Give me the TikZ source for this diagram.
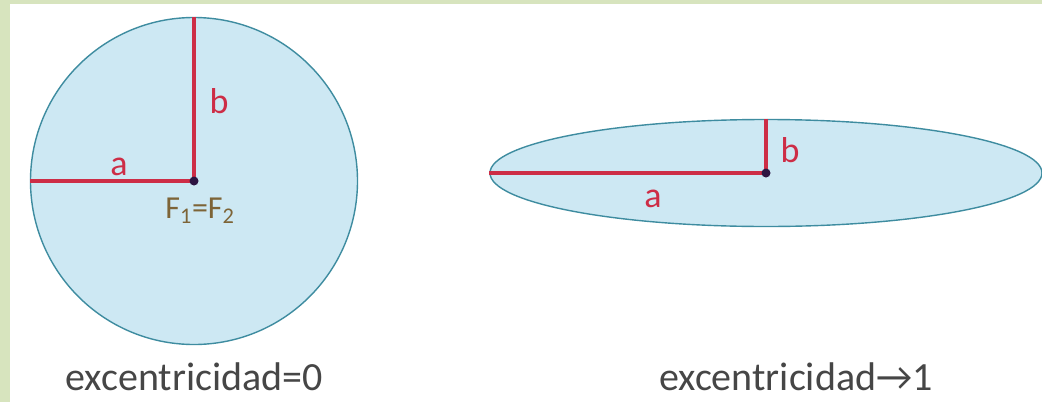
\documentclass[tikz,border=0pt]{standalone}
\usepackage{fontspec}
\setmainfont{Carlito}
\usepackage{xcolor}
\usetikzlibrary{shapes.geometric}

\definecolor{framegreen}{RGB}{215,228,190}
\definecolor{shapefill}{RGB}{205,232,243}
\definecolor{shapeline}{RGB}{62,140,160}
\definecolor{axisred}{RGB}{205,45,70}
\definecolor{focusbrown}{RGB}{125,100,55}
\definecolor{captiongray}{RGB}{70,70,70}
\definecolor{focusdot}{RGB}{45,20,65}

\tikzset{
  conic/.style={draw=shapeline, fill=shapefill, line width=1.4pt, inner sep=0pt},
  semiaxis/.style={draw=axisred, line width=3.2pt},
  axislabel/.style={anchor=base, text=axisred, font=\fontsize{36}{42}\selectfont},
  caption/.style={anchor=base, text=captiongray, font=\fontsize{40}{48}\selectfont}
}

\begin{document}
\begin{tikzpicture}[x=1pt, y=-1pt]
% Page and frame
\useasboundingbox (0,0) rectangle (1042,402);
\fill[white] (0,0) rectangle (1042,402);
\fill[framegreen] (0,0) rectangle (10,402);
\fill[framegreen] (0,0) rectangle (1042,4);

% Centres
\def\circx{194}
\def\circy{181}
\def\ellx{766}
\def\elly{173}

% Circle (e = 0)
\node[conic, circle, minimum size=327pt] (circ) at (\circx,\circy) {};
\draw[semiaxis] (circ.west) -- (circ.center);
\draw[semiaxis] (circ.north) -- (circ.center);
\fill[focusdot] (circ.center) circle (4.5pt);
\node[axislabel] (circa) at (119,175) {a};
\node[axislabel] (circb) at (219,113) {b};
\node[anchor=base, text=focusbrown, font=\fontsize{32}{38}\selectfont] (foci) at (200,218) {F\textsubscript{1}=F\textsubscript{2}};

% Ellipse (e -> 1)
\node[conic, ellipse, minimum width=552pt, minimum height=107pt] (ell) at (\ellx,\elly) {};
\draw[semiaxis] (ell.west) -- (ell.center);
\draw[semiaxis] (ell.north) -- (ell.center);
\fill[focusdot] (ell.center) circle (4.5pt);
\node[axislabel] (ella) at (653,207) {a};
\node[axislabel] (ellb) at (790,162) {b};

% Captions
\node[caption] (capa) at (194,390) {excentricidad=0};
\node[caption] (capb) at (796,390) {excentricidad→1};
\end{tikzpicture}
\end{document}
